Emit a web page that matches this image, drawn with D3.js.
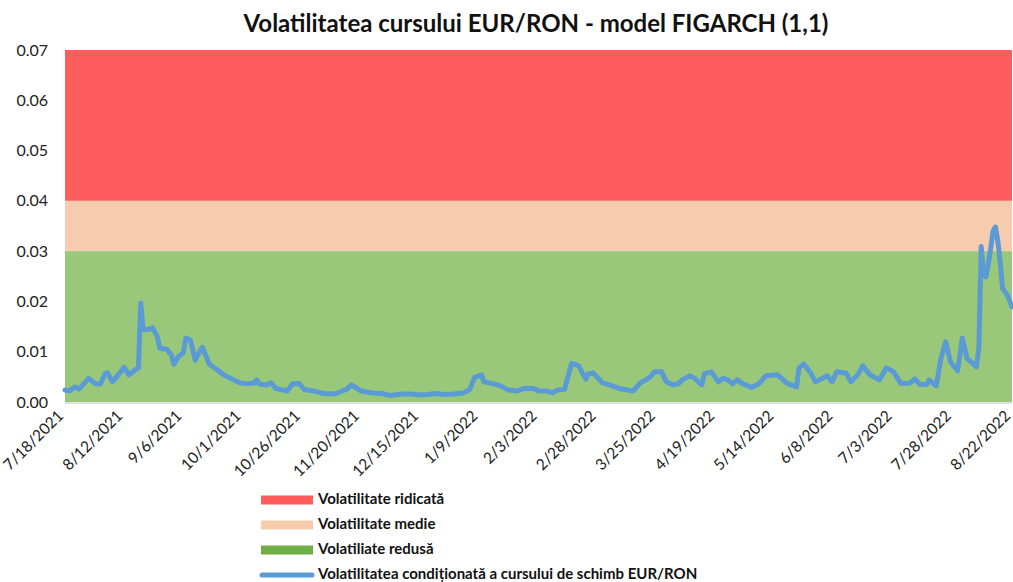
<!DOCTYPE html>
<html><head><meta charset="utf-8">
<script src="https://cdn.jsdelivr.net/npm/d3@7"></script>
<style>body{margin:0;background:#fff;}svg{display:block;}</style>
</head><body>
<svg id="chart" width="1013" height="582"></svg>
<script>
const title = "Volatilitatea cursului EUR/RON - model FIGARCH (1,1)";
const dates = ["2021-07-18","2021-07-20","2021-07-22","2021-07-24","2021-07-28","2021-07-31","2021-08-02","2021-08-04","2021-08-05","2021-08-07","2021-08-12","2021-08-14","2021-08-17","2021-08-18","2021-08-19","2021-08-20","2021-08-22","2021-08-24","2021-08-26","2021-08-27","2021-08-30","2021-09-01","2021-09-02","2021-09-04","2021-09-06","2021-09-07","2021-09-09","2021-09-11","2021-09-12","2021-09-14","2021-09-17","2021-09-20","2021-09-23","2021-09-26","2021-09-30","2021-10-03","2021-10-06","2021-10-07","2021-10-08","2021-10-11","2021-10-13","2021-10-15","2021-10-18","2021-10-20","2021-10-22","2021-10-25","2021-10-27","2021-10-31","2021-11-04","2021-11-09","2021-11-12","2021-11-14","2021-11-16","2021-11-20","2021-11-25","2021-11-29","2021-12-02","2021-12-07","2021-12-11","2021-12-15","2021-12-18","2021-12-22","2021-12-25","2021-12-29","2022-01-02","2022-01-05","2022-01-07","2022-01-10","2022-01-11","2022-01-15","2022-01-18","2022-01-21","2022-01-25","2022-01-28","2022-02-01","2022-02-03","2022-02-06","2022-02-09","2022-02-11","2022-02-14","2022-02-17","2022-02-20","2022-02-23","2022-02-24","2022-02-26","2022-03-02","2022-03-05","2022-03-09","2022-03-15","2022-03-18","2022-03-22","2022-03-24","2022-03-27","2022-03-29","2022-04-01","2022-04-03","2022-04-05","2022-04-08","2022-04-10","2022-04-13","2022-04-14","2022-04-17","2022-04-20","2022-04-22","2022-04-24","2022-04-26","2022-04-28","2022-04-30","2022-05-04","2022-05-07","2022-05-10","2022-05-15","2022-05-19","2022-05-23","2022-05-24","2022-05-26","2022-05-29","2022-05-31","2022-06-05","2022-06-07","2022-06-09","2022-06-13","2022-06-15","2022-06-18","2022-06-20","2022-06-23","2022-06-27","2022-06-30","2022-07-03","2022-07-06","2022-07-10","2022-07-12","2022-07-14","2022-07-17","2022-07-18","2022-07-21","2022-07-23","2022-07-25","2022-07-27","2022-07-30","2022-07-31","2022-08-01","2022-08-03","2022-08-07","2022-08-08","2022-08-09","2022-08-10","2022-08-11","2022-08-12","2022-08-13","2022-08-14","2022-08-15","2022-08-16","2022-08-17","2022-08-18","2022-08-20","2022-08-22"];
const volatility = [0.0024,0.0022,0.0030,0.0026,0.0047,0.0036,0.0036,0.0057,0.0058,0.0040,0.0069,0.0054,0.0065,0.0067,0.0197,0.0144,0.0144,0.0148,0.0130,0.0107,0.0105,0.0093,0.0075,0.0091,0.0098,0.0127,0.0123,0.0083,0.0093,0.0109,0.0075,0.0065,0.0054,0.0047,0.0038,0.0036,0.0038,0.0044,0.0036,0.0034,0.0038,0.0027,0.0024,0.0022,0.0036,0.0037,0.0025,0.0022,0.0017,0.0016,0.0022,0.0025,0.0034,0.0022,0.0018,0.0017,0.0013,0.0016,0.0016,0.0014,0.0015,0.0017,0.0015,0.0016,0.0018,0.0025,0.0049,0.0054,0.0040,0.0036,0.0032,0.0024,0.0022,0.0027,0.0027,0.0022,0.0022,0.0018,0.0024,0.0025,0.0077,0.0072,0.0045,0.0056,0.0058,0.0038,0.0034,0.0027,0.0022,0.0038,0.0049,0.0060,0.0060,0.0040,0.0034,0.0036,0.0045,0.0052,0.0047,0.0034,0.0056,0.0060,0.0040,0.0047,0.0044,0.0036,0.0044,0.0037,0.0029,0.0036,0.0052,0.0054,0.0037,0.0030,0.0067,0.0076,0.0057,0.0040,0.0052,0.0040,0.0060,0.0057,0.0040,0.0055,0.0072,0.0054,0.0044,0.0068,0.0060,0.0037,0.0038,0.0046,0.0035,0.0035,0.0044,0.0032,0.0087,0.0120,0.0080,0.0062,0.0093,0.0127,0.0087,0.0070,0.0107,0.0309,0.0252,0.0249,0.0275,0.0305,0.0340,0.0348,0.0320,0.0279,0.0226,0.0213,0.0189];
const bandNames = ["Volatilitate ridicată","Volatilitate medie","Volatiliate redusă"];
const bandLow = [0.04,0.03,0.00];
const bandHigh = [0.07,0.04,0.03];
const lineName = "Volatilitatea condiționată a cursului de schimb EUR/RON";
const xTickLabels = ["7/18/2021","8/12/2021","9/6/2021","10/1/2021","10/26/2021","11/20/2021","12/15/2021","1/9/2022","2/3/2022","2/28/2022","3/25/2022","4/19/2022","5/14/2022","6/8/2022","7/3/2022","7/28/2022","8/22/2022"];
const yTicks = [0,0.01,0.02,0.03,0.04,0.05,0.06,0.07];

const bandFill = ["#FE5D5D","#F7CBAD","#9AC87A"];
const legendFill = ["#FF5B5B","#F8CBAD","#70AD47"];
const lineColor = "#5B9BD5";
const font = "Lato, 'Open Sans', sans-serif";

const svg = d3.select("#chart");
const m = {l:65, r:1012, t:50, b:402};
const parse = d3.timeParse("%Y-%m-%d");
const tickParse = d3.timeParse("%m/%d/%Y");
const data = dates.map((d,i)=>({date:parse(d), v:volatility[i]}));
const tickDates = xTickLabels.map(s=>tickParse(s));

const x = d3.scaleTime().domain([tickDates[0], tickDates[tickDates.length-1]]).range([m.l, m.r]);
const y = d3.scaleLinear().domain([0,0.07]).range([m.b, m.t]);

// bands
svg.append("g").selectAll("rect").data(bandNames).join("rect")
  .attr("x", m.l).attr("width", m.r-m.l)
  .attr("y", (d,i)=>y(bandHigh[i])).attr("height",(d,i)=>y(bandLow[i])-y(bandHigh[i]))
  .attr("fill",(d,i)=>bandFill[i]);

// bottom axis line
svg.append("line").attr("x1",m.l).attr("x2",m.r).attr("y1",m.b+1).attr("y2",m.b+1)
  .attr("stroke","#d9d9d9").attr("stroke-width",1.5);

// y axis
const yAxis = svg.append("g").attr("transform",`translate(${m.l},0)`)
  .call(d3.axisLeft(y).tickValues(yTicks).tickFormat(d3.format(".2f")).tickSize(0).tickPadding(17));
yAxis.select(".domain").remove();
yAxis.selectAll("text").attr("font-family",font).attr("font-size",16).attr("fill","#222");

// x axis
const xAxis = svg.append("g").attr("transform",`translate(0,${m.b})`)
  .call(d3.axisBottom(x).tickValues(tickDates).tickFormat((d,i)=>xTickLabels[i]).tickSize(0));
xAxis.select(".domain").remove();
xAxis.selectAll("text").attr("font-family",font).attr("font-size",15.5).attr("fill","#222")
  .attr("text-anchor","end").attr("dy",null).attr("y",0)
  .attr("transform","translate(-4,12) rotate(-45)").attr("dominant-baseline","middle");

// line
svg.append("path").datum(data)
  .attr("d", d3.line().x(d=>x(d.date)).y(d=>y(d.v)))
  .attr("fill","none").attr("stroke",lineColor).attr("stroke-width",5)
  .attr("stroke-linejoin","round").attr("stroke-linecap","round");

// title
svg.append("text").attr("x",536).attr("y",32).attr("text-anchor","middle")
  .attr("font-family",font).attr("font-weight","bold").attr("font-size",24).attr("fill","#111")
  .text(title);

// legend
const lg = svg.append("g");
const rows = bandNames.concat([lineName]);
rows.forEach((name,i)=>{
  const yy = 500 + i*25;
  if(i<3){
    lg.append("rect").attr("x",261).attr("y",yy-4.5).attr("width",52).attr("height",9).attr("fill",legendFill[i]);
  } else {
    lg.append("line").attr("x1",262).attr("x2",312).attr("y1",yy).attr("y2",yy)
      .attr("stroke",lineColor).attr("stroke-width",5).attr("stroke-linecap","round");
  }
  lg.append("text").attr("x",318).attr("y",yy).attr("dominant-baseline","middle")
    .attr("font-family",font).attr("font-weight","bold").attr("font-size",15).attr("fill","#111")
    .text(name);
});
</script>
</body></html>
